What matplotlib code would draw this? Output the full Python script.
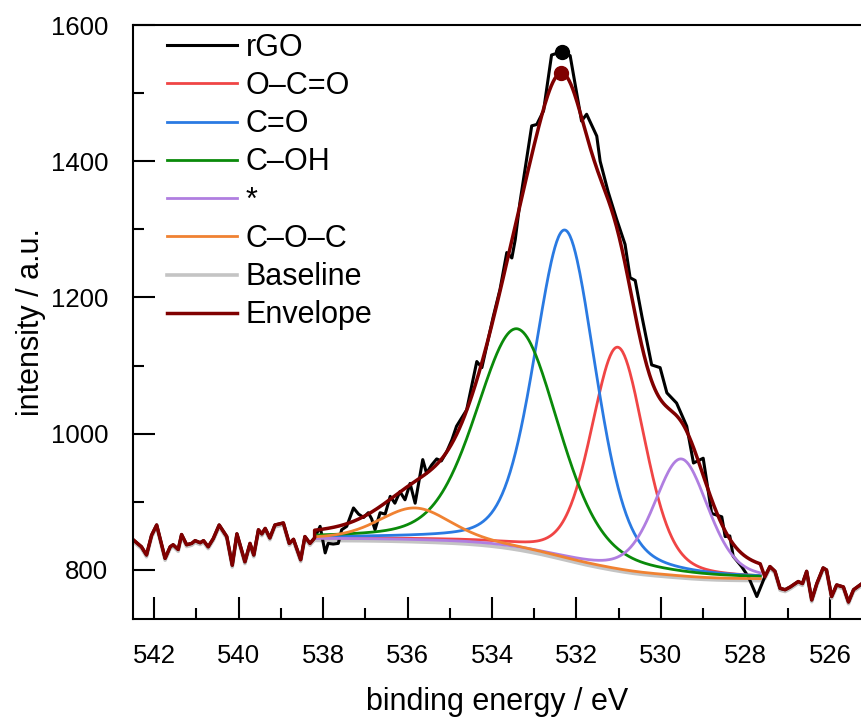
import numpy as np
import matplotlib.pyplot as plt
from matplotlib import transforms

plt.rcParams["font.family"] = ["Liberation Sans", "DejaVu Sans"]

# rGO O 1s spectrum (binding energy / eV, intensity / a.u.)
energy = [542.49, 542.30, 542.18, 542.06, 541.94, 541.74, 541.62, 541.55, 541.43, 541.35,
          541.23, 541.11, 541.03, 540.91, 540.83, 540.72, 540.60, 540.46, 540.28, 540.15,
          540.04, 539.85, 539.73, 539.64, 539.53, 539.45, 539.37, 539.26, 539.14, 538.94,
          538.80, 538.70, 538.53, 538.43, 538.31, 538.20, 538.07, 537.95, 537.88, 537.76,
          537.64, 537.56, 537.44, 537.28, 537.16, 537.04, 536.93, 536.85, 536.77, 536.65,
          536.53, 536.41, 536.30, 536.18, 536.06, 535.94, 535.82, 535.64, 535.55, 535.43,
          535.31, 535.20, 535.07, 534.95, 534.84, 534.60, 534.36, 534.24, 533.97, 533.81,
          533.65, 533.53, 533.45, 533.34, 533.06, 532.94, 532.78, 532.59, 532.34, 532.15,
          531.88, 531.76, 531.52, 531.44, 531.25, 531.05, 530.85, 530.73, 530.61, 530.45,
          530.22, 530.02, 529.86, 529.63, 529.39, 529.23, 529.00, 528.80, 528.56, 528.48,
          528.37, 528.29, 528.09, 527.93, 527.73, 527.54, 527.42, 527.30, 527.18, 527.06,
          526.94, 526.75, 526.65, 526.55, 526.43, 526.31, 526.16, 526.08, 525.96, 525.84,
          525.68, 525.56, 525.44, 525.24]
intensity = [844, 834, 822, 851, 866, 817, 834, 837, 830, 852,
             837, 839, 843, 840, 843, 834, 846, 866, 849, 807,
             853, 812, 839, 822, 859, 853, 861, 847, 866, 869,
             839, 845, 815, 849, 839, 847, 864, 825, 839, 838,
             839, 859, 864, 891, 882, 877, 884, 875, 859, 884,
             882, 908, 898, 915, 903, 927, 898, 962, 942, 954,
             963, 960, 974, 991, 1011, 1035, 1106, 1097, 1172, 1212,
             1266, 1258, 1285, 1339, 1452, 1454, 1474, 1556, 1561, 1555,
             1459, 1469, 1437, 1400, 1355, 1315, 1278, 1229, 1225, 1172,
             1101, 1097, 1060, 1045, 1011, 957, 964, 883, 878, 849,
             850, 820, 805, 790, 761, 790, 805, 798, 773, 771,
             775, 783, 780, 798, 756, 780, 803, 800, 761, 778,
             775, 753, 771, 780]

# fit window and baseline end points
fit_start, fit_end = 538.2, 527.65
base_high, base_low = 846, 787

# fitted components: centre / eV, top of curve / a.u., FWHM / eV (GL 30 % Lorentzian)
comp_names = ["O\u2013C=O", "C=O", "C\u2013OH", "*", "C\u2013O\u2013C"]
comp_centers = [531.02, 532.27, 533.4, 529.52, 535.82]
comp_tops = [1127, 1299, 1154, 963, 891]
comp_fwhm = [1.5, 1.7, 2.3, 1.5, 2.0]
gl_mix = 0.3
comp_colors = ["#f04545", "#2a7ae2", "#0a8a0a", "#b07ee0", "#f08232"]

energy = np.array(energy)
intensity = np.array(intensity)


def gl_peak(x, a, c, w):
    u = (x - c) / w
    return a * ((1 - gl_mix) * np.exp(-4 * np.log(2) * u ** 2) + gl_mix / (1 + 4 * u ** 2))


x = np.linspace(fit_end, fit_start, 500)
centers = np.array(comp_centers)
amps = np.array(comp_tops, dtype=float) - base_high
for _ in range(30):
    peaks = [gl_peak(x, a, c, w) for a, c, w in zip(amps, centers, comp_fwhm)]
    total = np.sum(peaks, axis=0)
    cum = np.concatenate([[0], np.cumsum((total[1:] + total[:-1]) / 2 * np.diff(x))])
    baseline = base_low + (base_high - base_low) * cum / cum[-1]
    amps = np.array(comp_tops) - np.interp(centers, x, baseline)
envelope = baseline + total

left = energy >= fit_start
right = energy <= fit_end
env_x = np.concatenate([energy[left], x[::-1], energy[right]])
env_y = np.concatenate([intensity[left], envelope[::-1], intensity[right]])
base_y = np.concatenate([intensity[left], baseline[::-1], intensity[right]])

fig = plt.figure(figsize=(8.62, 7.19), dpi=100)
ax = fig.add_axes([0.1543, 0.1391, 0.8457, 0.8261])

shift = transforms.offset_copy(ax.transData, fig=fig, x=0, y=-1.3, units="points")
h_base, = ax.plot(env_x, base_y, color="#c4c4c4", lw=2.6, transform=shift, label="Baseline")
h_rgo, = ax.plot(energy, intensity, color="black", lw=2.2, label="rGO")
h_comp = []
for p, name, col in zip(peaks, comp_names, comp_colors):
    h, = ax.plot(x, baseline + p, color=col, lw=2.0, label=name)
    h_comp.append(h)
h_env, = ax.plot(env_x, env_y, color="#800000", lw=2.5, label="Envelope")

i_max = np.argmax(intensity)
ax.plot(energy[i_max], intensity[i_max], "o", color="black", ms=10, zorder=5)
j_max = np.argmax(envelope)
ax.plot(x[j_max], envelope[j_max], "o", color="#800000", ms=10, zorder=6)

ax.set_xlim(542.5, 525.24)
ax.set_ylim(728, 1600)
ax.set_xticks(np.arange(526, 543, 2))
ax.set_xticks(np.arange(527, 543, 2), minor=True)
ax.set_yticks([800, 1000, 1200, 1400, 1600])
ax.set_yticks(np.arange(900, 1600, 200), minor=True)
ax.tick_params(which="both", direction="in", width=1.5, labelsize=18.5, pad=18,
               top=False, right=False)
ax.tick_params(which="major", length=16)
ax.tick_params(which="minor", length=8)
for s in ["left", "bottom", "top"]:
    ax.spines[s].set_linewidth(1.5)
ax.spines["right"].set_visible(False)

ax.set_xlabel("binding energy / eV", fontsize=22, labelpad=14)
ax.set_ylabel("intensity / a.u.", fontsize=22, labelpad=3)

handles = [h_rgo] + h_comp + [h_base, h_env]
ax.legend(handles=handles, loc="upper left", bbox_to_anchor=(0.046, 0.987),
          frameon=False, fontsize=22, handlelength=2.3, handletextpad=0.3,
          labelspacing=0.27, borderpad=0, borderaxespad=0)

fig.savefig("out.png", dpi=100)
